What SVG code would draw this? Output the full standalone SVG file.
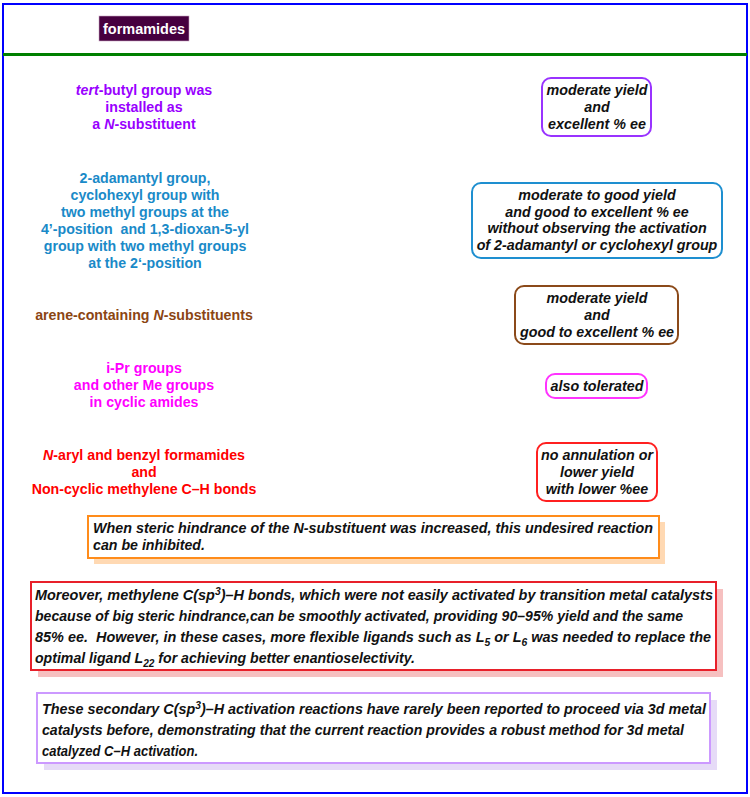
<svg xmlns="http://www.w3.org/2000/svg" width="750" height="797" viewBox="0 0 750 797">
<style>
.lt{font-family:"Liberation Sans",Arial,sans-serif;font-size:14.2px;font-weight:bold;text-anchor:middle}
.rt{font-family:"Liberation Sans",Arial,sans-serif;font-size:14.3px;font-weight:bold;font-style:italic;text-anchor:middle;fill:#111}
.bt{font-family:"Liberation Sans",Arial,sans-serif;font-size:14px;font-weight:bold;font-style:italic;fill:#111}
.box{fill:#fff;stroke-width:2}
.i{font-style:italic}
</style>
<rect x="0" y="0" width="750" height="797" fill="#fff"/>
<rect x="3" y="4" width="744" height="789" fill="none" stroke="#0000ff" stroke-width="2"/>
<line x1="3" y1="54.5" x2="747" y2="54.5" stroke="#008000" stroke-width="3"/>

<g id="header">
<rect x="99" y="16" width="90" height="25" fill="#46003f" stroke="#c9a6c4" stroke-width="0.6"/>
<text x="103" y="34" font-family="Liberation Sans,Arial,sans-serif" font-size="15" font-weight="bold" fill="#fff" textLength="82" lengthAdjust="spacingAndGlyphs">formamides</text>
</g>

<g id="left-tert">
<text class="lt" x="144" y="95" fill="#9900ff"><tspan class="i">tert</tspan>-butyl group was</text>
<text class="lt" x="144" y="112" fill="#9900ff">installed as</text>
<text class="lt" x="144" y="129" fill="#9900ff">a <tspan class="i">N</tspan>-substituent</text>
</g>
<g id="left-adamantyl">
<text class="lt" x="145" y="183" fill="#1a8ac8">2-adamantyl group,</text>
<text class="lt" x="145" y="200" fill="#1a8ac8">cyclohexyl group with</text>
<text class="lt" x="145" y="217" fill="#1a8ac8">two methyl groups at the</text>
<text class="lt" x="145" y="234" fill="#1a8ac8" xml:space="preserve">4’-position  and 1,3-dioxan-5-yl</text>
<text class="lt" x="145" y="251" fill="#1a8ac8">group with two methyl groups</text>
<text class="lt" x="145" y="268" fill="#1a8ac8">at the 2‘-position</text>
</g>
<g id="left-arene">
<text class="lt" x="144" y="320" fill="#8b4513">arene-containing <tspan class="i">N</tspan>-substituents</text>
</g>
<g id="left-ipr">
<text class="lt" x="144" y="373" fill="#ff00ff">i-Pr groups</text>
<text class="lt" x="144" y="390" fill="#ff00ff">and other Me groups</text>
<text class="lt" x="144" y="407" fill="#ff00ff">in cyclic amides</text>
</g>
<g id="left-aryl">
<text class="lt" x="144" y="460" fill="#ff0000"><tspan class="i">N</tspan>-aryl and benzyl formamides</text>
<text class="lt" x="144" y="477" fill="#ff0000">and</text>
<text class="lt" x="144" y="494" fill="#ff0000">Non-cyclic methylene C–H bonds</text>
</g>

<g id="right-tert">
<rect class="box" x="542" y="78" width="109" height="58" rx="9" stroke="#9933ff"/>
<text class="rt" x="597" y="95">moderate yield</text>
<text class="rt" x="597" y="112">and</text>
<text class="rt" x="597" y="129">excellent % ee</text>
</g>
<g id="right-adamantyl">
<rect class="box" x="472" y="183" width="250" height="75" rx="9" stroke="#1e8fd0"/>
<text class="rt" x="597" y="200">moderate to good yield</text>
<text class="rt" x="597" y="216.7">and good to excellent % ee</text>
<text class="rt" x="597" y="233.4">without observing the activation</text>
<text class="rt" x="597" y="250">of 2-adamantyl or cyclohexyl group</text>
</g>
<g id="right-arene">
<rect class="box" x="515" y="286" width="163" height="58" rx="9" stroke="#8b4a1a"/>
<text class="rt" x="597" y="303">moderate yield</text>
<text class="rt" x="597" y="320">and</text>
<text class="rt" x="597" y="337">good to excellent % ee</text>
</g>
<g id="right-ipr">
<rect class="box" x="546" y="374" width="101" height="24" rx="9" stroke="#ff33ff"/>
<text class="rt" x="597" y="391">also tolerated</text>
</g>
<g id="right-aryl">
<rect class="box" x="537" y="443" width="120" height="58" rx="9" stroke="#ff2020"/>
<text class="rt" x="597" y="460">no annulation or</text>
<text class="rt" x="597" y="477">lower yield</text>
<text class="rt" x="597" y="494">with lower %ee</text>
</g>

<g id="note-steric">
<rect x="94" y="522" width="571" height="42" fill="#ffd9b3"/>
<rect x="88" y="516" width="571" height="42" fill="#fff" stroke="#ff8c1a" stroke-width="2"/>
<text class="bt" x="93" y="533" textLength="560" lengthAdjust="spacingAndGlyphs">When steric hindrance of the N-substituent was increased, this undesired reaction</text>
<text class="bt" x="93" y="550" textLength="112" lengthAdjust="spacingAndGlyphs">can be inhibited.</text>
</g>

<g id="note-methylene">
<rect x="38" y="589" width="685" height="88" fill="#f6c0c0"/>
<rect x="31" y="582" width="685" height="88" fill="#fff" stroke="#e8202a" stroke-width="2"/>
<text class="bt" x="35" y="600" textLength="678" lengthAdjust="spacingAndGlyphs">Moreover, methylene C(sp<tspan dy="-5" font-size="10">3</tspan><tspan dy="5">)–H bonds, which were not easily activated by transition metal catalysts</tspan></text>
<text class="bt" x="35" y="621" textLength="648" lengthAdjust="spacingAndGlyphs">because of big steric hindrance,can be smoothly activated, providing 90–95% yield and the same</text>
<text class="bt" x="35" y="642" textLength="676" lengthAdjust="spacingAndGlyphs" xml:space="preserve">85% ee.  However, in these cases, more flexible ligands such as L<tspan dy="4" font-size="10">5</tspan><tspan dy="-4"> or L</tspan><tspan dy="4" font-size="10">6</tspan><tspan dy="-4"> was needed to replace the</tspan></text>
<text class="bt" x="35" y="663" textLength="380" lengthAdjust="spacingAndGlyphs">optimal ligand L<tspan dy="4" font-size="10">22</tspan><tspan dy="-4"> for achieving better enantioselectivity.</tspan></text>
</g>

<g id="note-secondary">
<rect x="44" y="700" width="673" height="70" fill="#e6dbf7"/>
<rect x="37" y="693" width="673" height="70" fill="#fff" stroke="#cc99ff" stroke-width="2"/>
<text class="bt" x="42" y="714" textLength="664" lengthAdjust="spacingAndGlyphs">These secondary C(sp<tspan dy="-5" font-size="10">3</tspan><tspan dy="5">)–H activation reactions have rarely been reported to proceed via 3d metal</tspan></text>
<text class="bt" x="42" y="735" textLength="642" lengthAdjust="spacingAndGlyphs">catalysts before, demonstrating that the current reaction provides a robust method for 3d metal</text>
<text class="bt" x="42" y="756" textLength="156" lengthAdjust="spacingAndGlyphs">catalyzed C–H activation.</text>
</g>
<g id="connectors"/>
</svg>
